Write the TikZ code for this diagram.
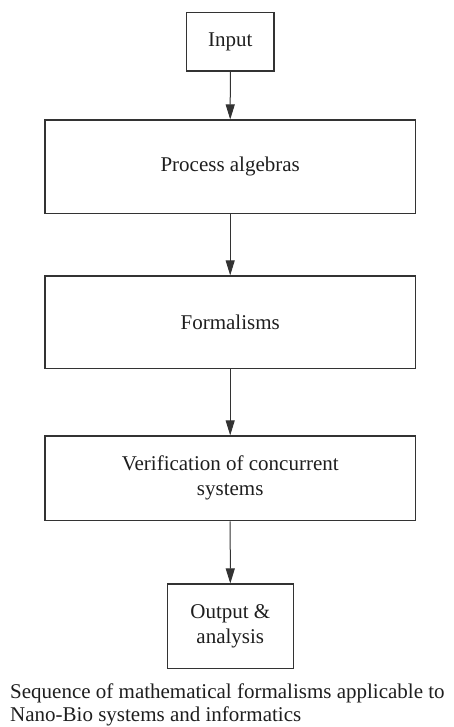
\documentclass[tikz,border=0pt]{standalone}
\usepackage{fontspec}
\setmainfont{Liberation Serif}
\usetikzlibrary{arrows.meta}
\definecolor{linec}{HTML}{333333}
\definecolor{textc}{HTML}{1E1E1E}
\begin{document}
\begin{tikzpicture}[x=1pt,y=-1pt,
  box/.style={draw=linec,line width=1.2pt,rectangle,inner sep=0pt,align=center,
    text=textc,font=\fontsize{21}{25}\selectfont},
  wide/.style={box,minimum width=370.3pt},
  conn/.style={draw=linec,line width=1pt,-{Triangle[length=15pt,width=9pt]}},
  captext/.style={anchor=base west,inner sep=0pt,text=textc,font=\fontsize{21}{24}\selectfont}]
\useasboundingbox (0,0) rectangle (454,727);
\node[box,minimum width=87.3pt,minimum height=58.3pt] (input) at (230.3,41.8) {Input};
\node[wide,minimum height=93.3pt] (proc) at (230.2,166.7) {Process algebras};
\node[wide,minimum height=92.7pt] (form) at (230.2,322.3) {Formalisms};
\node[wide,minimum height=84.7pt] (verif) at (230.2,478.3) {Verification of concurrent\\systems};
\node[box,minimum width=126pt,minimum height=84.3pt] (out) at (230.3,626.2) {Output \&\\analysis};
\draw[conn] (input.south) -- (proc.north);
\draw[conn] (proc.south) -- (form.north);
\draw[conn] (form.south) -- (verif.north);
\draw[conn] (verif.south) -- (out.north);
\node[captext] (cap1) at (10,698) {Sequence of mathematical formalisms applicable to};
\node[captext] (cap2) at (10,721.5) {Nano-Bio systems and informatics};
\end{tikzpicture}
\end{document}
